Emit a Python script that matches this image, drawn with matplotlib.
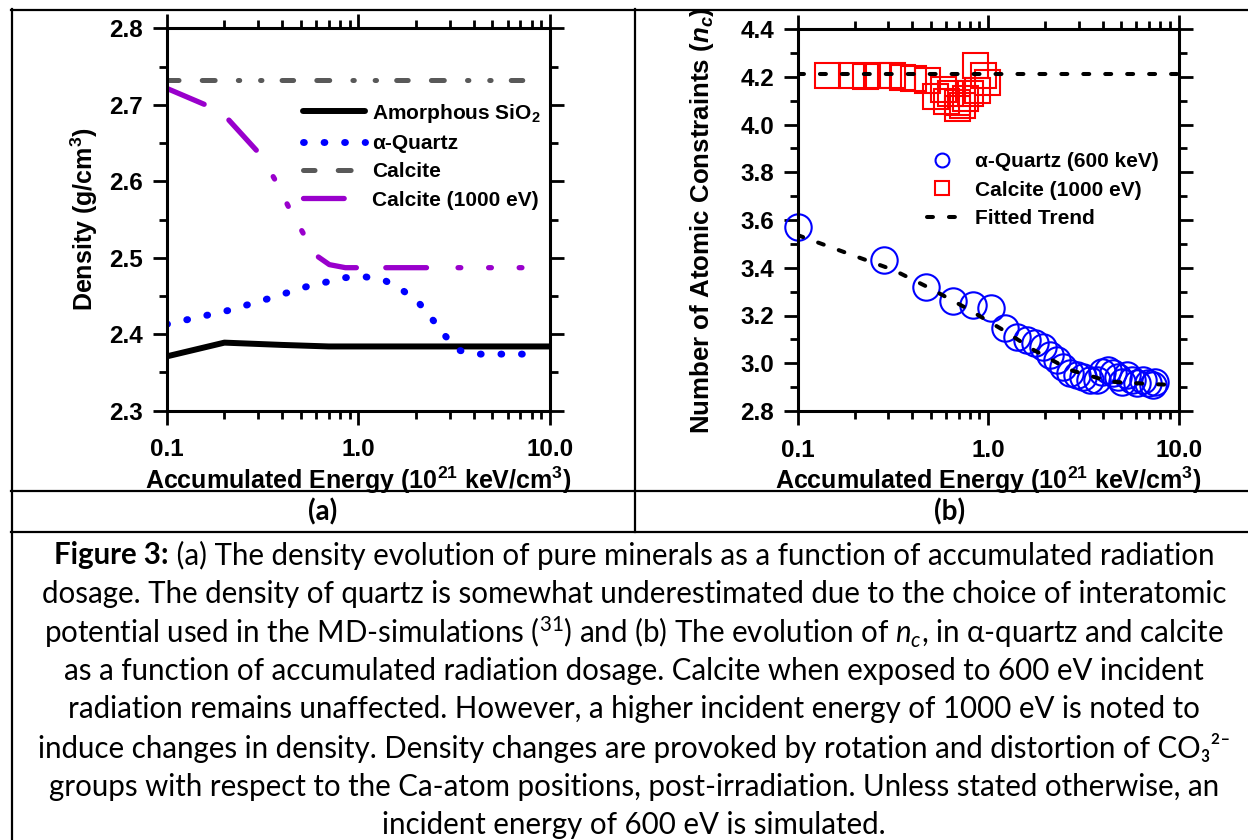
import matplotlib
matplotlib.use("Agg")
import matplotlib.pyplot as plt
from matplotlib.lines import Line2D
from matplotlib.ticker import FixedLocator, FixedFormatter, NullFormatter

# ---------------- data: panel (a) density ----------------
amorph_x = [0.1, 0.2, 0.4, 0.7, 10.0]
amorph_y = [2.371, 2.389, 2.386, 2.384, 2.384]
quartz_x = [0.1, 0.209, 0.334, 0.533, 0.855, 1.09, 1.38, 1.72, 2.09, 2.43, 2.83, 3.33, 4.2, 9.0]
quartz_y = [2.413, 2.431, 2.446, 2.462, 2.474, 2.475, 2.470, 2.4565, 2.4395, 2.4195, 2.398, 2.379, 2.374, 2.374]
calcite_x = [0.1, 8.8]
calcite_y = [2.732, 2.732]
calc1000_x = [0.1, 0.166, 0.211, 0.310, 0.367, 0.431, 0.515, 0.610, 0.705, 0.855, 1.0, 8.0]
calc1000_y = [2.7215, 2.698, 2.680, 2.634, 2.602, 2.567, 2.532, 2.502, 2.491, 2.487, 2.487, 2.487]

# ---------------- data: panel (b) constraints ----------------
qnc_x = [0.1, 0.285, 0.471, 0.652, 0.836, 1.03, 1.227, 1.41, 1.594, 1.76, 1.95, 2.11, 2.29,
         2.48, 2.69, 2.92, 3.16, 3.43, 3.72, 3.95, 4.28, 4.54, 4.82, 5.02, 5.34, 5.67, 6.02,
         6.52, 6.93, 7.36, 7.5]
qnc_y = [3.572, 3.433, 3.318, 3.261, 3.244, 3.230, 3.147, 3.111, 3.098, 3.086, 3.069, 3.035, 3.014,
         2.986, 2.958, 2.951, 2.944, 2.930, 2.930, 2.965, 2.972, 2.958, 2.944, 2.923, 2.951, 2.930, 2.916,
         2.930, 2.916, 2.909, 2.920]
cnc_x = [0.143, 0.19, 0.226, 0.265, 0.312, 0.352, 0.405, 0.476, 0.526, 0.582, 0.60, 0.631, 0.684,
         0.684, 0.727, 0.757, 0.804, 0.871, 0.853, 0.944, 0.984]
cnc_y = [4.207, 4.207, 4.204, 4.207, 4.207, 4.200, 4.193, 4.186, 4.120, 4.150, 4.100, 4.130, 4.069,
         4.096, 4.082, 4.110, 4.131, 4.145, 4.249, 4.207, 4.179]
trend_flat_x = [0.1, 10.0]
trend_flat_y = [4.212, 4.212]
trend_x = [0.1, 0.205, 0.318, 0.496, 0.772, 1.2, 1.73, 2.69, 4.36, 7.08, 9.55]
trend_y = [3.537, 3.446, 3.391, 3.314, 3.230, 3.139, 3.056, 2.972, 2.923, 2.913, 2.909]

x_ticks = [0.1, 1.0, 10.0]
x_ticklabels = ["0.1", "1.0", "10.0"]
ya_ticks = [2.3, 2.4, 2.5, 2.6, 2.7, 2.8]
ya_ticklabels = ["2.3", "2.4", "2.5", "2.6", "2.7", "2.8"]
yb_ticks = [2.8, 3.0, 3.2, 3.4, 3.6, 3.8, 4.0, 4.2, 4.4]
yb_ticklabels = ["2.8", "3.0", "3.2", "3.4", "3.6", "3.8", "4.0", "4.2", "4.4"]

caption_lines = [
    "dosage. The density of quartz is somewhat underestimated due to the choice of interatomic",
    r"potential used in the MD-simulations ($^{31}$) and (b) The evolution of $\mathit{n}_{\mathit{c}}$, in α-quartz and calcite",
    "as a function of accumulated radiation dosage. Calcite when exposed to 600 eV incident",
    "radiation remains unaffected. However, a higher incident energy of 1000 eV is noted to",
    "induce changes in density. Density changes are provoked by rotation and distortion of CO₃²⁻",
    "groups with respect to the Ca-atom positions, post-irradiation. Unless stated otherwise, an",
    "incident energy of 600 eV is simulated.",
]
caption_bold = "Figure 3:"
caption_first = " (a) The density evolution of pure minerals as a function of accumulated radiation"

# ---------------- style ----------------
plt.rcParams["font.family"] = ["Liberation Sans", "DejaVu Sans"]
plt.rcParams["font.weight"] = "bold"
plt.rcParams["axes.labelweight"] = "bold"
plt.rcParams["mathtext.default"] = "regular"
plt.rcParams["mathtext.fontset"] = "custom"
plt.rcParams["mathtext.it"] = "Lato:style=italic:weight=normal"
plt.rcParams["mathtext.bfit"] = "Liberation Sans:style=italic:weight=bold"
plt.rcParams["mathtext.rm"] = "Liberation Sans:bold"
plt.rcParams["mathtext.bf"] = "Liberation Sans:bold"
plt.rcParams["lines.scale_dashes"] = False

W, H = 1248, 840
fig = plt.figure(figsize=(W / 100, H / 100), dpi=100)


def rect(l, t, r, b):
    return [l / W, 1 - b / H, (r - l) / W, (b - t) / H]


TICK_FS = 17.5
LABEL_FS = 18
LEG_FS = 15


def style_axes(ax, yticks, ylabels, yminor):
    ax.set_xscale("log")
    ax.set_xlim(0.1, 10.0)
    ax.xaxis.set_major_locator(FixedLocator(x_ticks))
    ax.xaxis.set_major_formatter(FixedFormatter(x_ticklabels))
    ax.xaxis.set_minor_locator(FixedLocator([m * d for d in (0.1, 1.0) for m in range(2, 10)]))
    ax.xaxis.set_minor_formatter(NullFormatter())
    ax.yaxis.set_major_locator(FixedLocator(yticks))
    ax.yaxis.set_major_formatter(FixedFormatter(ylabels))
    ax.yaxis.set_minor_locator(FixedLocator(yminor))
    ax.set_ylim(yticks[0], yticks[-1])
    for s in ax.spines.values():
        s.set_linewidth(2.2)
    ax.tick_params(which="both", direction="out", top=True, right=True, width=2.0)
    ax.tick_params(which="major", length=10, labelsize=TICK_FS)
    ax.tick_params(which="minor", length=6)
    ax.tick_params(axis="x", which="major", pad=10)
    ax.tick_params(axis="y", which="major", pad=7)


# ---------------- panel (a) ----------------
axa = fig.add_axes(rect(166.7, 28.3, 550.2, 410.7))
axa.plot(amorph_x, amorph_y, color="black", lw=4.3, solid_capstyle="round",
         solid_joinstyle="round", label="Amorphous SiO$_2$")
axa.plot(quartz_x, quartz_y, color="#0000FF", lw=5.0, linestyle=(0, (0.6, 14.2)),
         dash_capstyle="round", label="α-Quartz")
axa.plot(calcite_x, calcite_y, color="#595959", lw=3.6,
         linestyle=(0, (8.3, 16.7, 9.3, 16.7, 1.0, 15.0, 1.0, 14.5)), dash_capstyle="round",
         label="Calcite")
axa.plot(calc1000_x, calc1000_y, color="#9900CC", lw=3.8,
         linestyle=(0, (29.3, 21.2, 29.3, 22.7, 2.0, 20.0, 2.0, 20.0, 2.0, 20.5)),
         dash_capstyle="round", label="Calcite (1000 eV)")
style_axes(axa, ya_ticks, ya_ticklabels, [2.35, 2.45, 2.55, 2.65, 2.75])
axa.set_xlabel(r"Accumulated Energy (10$^{21}$ keV/cm$^{3}$)", fontsize=LABEL_FS, labelpad=2)
axa.set_ylabel(r"Density (g/cm$^{3}$)", fontsize=LABEL_FS, labelpad=7)
axa.legend(loc="center left", bbox_to_anchor=(0.355, 0.667), frameon=False, fontsize=LEG_FS,
           borderpad=0, borderaxespad=0, handlelength=3.0, handletextpad=0.34, labelspacing=0.45)

# ---------------- panel (b) ----------------
axb = fig.add_axes(rect(797.5, 29.0, 1178.7, 411.0))
axb.plot(trend_flat_x, trend_flat_y, color="black", lw=2.9, linestyle=(0, (4.3, 11.5)),
         dash_capstyle="round", zorder=3)
axb.plot(trend_x, trend_y, color="black", lw=2.9, linestyle=(0, (4.3, 11.5)),
         dash_capstyle="round", zorder=3)
axb.plot(qnc_x, qnc_y, linestyle="none", marker="o", markersize=19, markerfacecolor="none",
         markeredgecolor="#0000FF", markeredgewidth=1.5, clip_on=False, zorder=2)
axb.plot(cnc_x, cnc_y, linestyle="none", marker="s", markersize=18, markerfacecolor="none",
         markeredgecolor="#FF0000", markeredgewidth=1.5, clip_on=False, zorder=2)
style_axes(axb, yb_ticks, yb_ticklabels, [2.9, 3.1, 3.3, 3.5, 3.7, 3.9, 4.1, 4.3])
axb.set_xlabel(r"Accumulated Energy (10$^{21}$ keV/cm$^{3}$)", fontsize=LABEL_FS, labelpad=2)
axb.set_ylabel(r"Number of Atomic Constraints ($\mathbfit{n}_{\mathbfit{c}}$)", fontsize=18.6)
axb.yaxis.set_label_coords(-0.214, 0.50)
leg_handles = [
    Line2D([], [], linestyle="none", marker="o", markersize=10, markerfacecolor="none",
           markeredgecolor="#0000FF", markeredgewidth=1.5),
    Line2D([], [], linestyle="none", marker="s", markersize=10, markerfacecolor="none",
           markeredgecolor="#FF0000", markeredgewidth=1.5),
    Line2D([], [], color="black", lw=2.9, linestyle=(0, (4.3, 11.5)), dash_capstyle="round"),
]
axb.legend(leg_handles, ["α-Quartz (600 keV)", "Calcite (1000 eV)", "Fitted Trend"],
           loc="center left", bbox_to_anchor=(0.34, 0.578), frameon=False, fontsize=LEG_FS,
           borderpad=0, borderaxespad=0, handlelength=1.4, handletextpad=0.9, labelspacing=0.45)

# ---------------- table borders ----------------
def hline(y, x0, x1):
    fig.add_artist(Line2D([x0 / W, x1 / W], [1 - y / H, 1 - y / H], color="black", lw=1.6,
                          transform=fig.transFigure))


def vline(x, y0, y1):
    fig.add_artist(Line2D([x / W, x / W], [1 - y0 / H, 1 - y1 / H], color="black", lw=1.6,
                          transform=fig.transFigure))


hline(10, 11, W)
hline(491, 11, W)
hline(532, 11, W)
vline(12, 9, H)
vline(635, 9, 532)

CAP_FONT = ["Lato", "DejaVu Sans"]
fig.text(323 / W, 1 - 512 / H, "(a)", ha="center", va="center", fontsize=20,
         family=CAP_FONT, weight="bold")
fig.text(950 / W, 1 - 512 / H, "(b)", ha="center", va="center", fontsize=20,
         family=CAP_FONT, weight="bold")

# ---------------- caption ----------------
renderer = fig.canvas.get_renderer()
probe_b = fig.text(0, 0, caption_bold, fontsize=16, family=CAP_FONT, weight="bold")
probe_r = fig.text(0, 0, caption_first, fontsize=16, family=CAP_FONT, weight="normal")
w_total = probe_b.get_window_extent(renderer).width + probe_r.get_window_extent(renderer).width
cap_fs = 16 * 1168.0 / w_total
probe_b.remove()
probe_r.remove()

cap_cx = 634
line_y0 = 555
line_dy = 38.6
tb = fig.text(0, 0, caption_bold, fontsize=cap_fs, family=CAP_FONT, weight="bold", va="center")
tr = fig.text(0, 0, caption_first, fontsize=cap_fs, family=CAP_FONT, weight="normal", va="center")
wb = tb.get_window_extent(renderer).width
wr = tr.get_window_extent(renderer).width
x0 = cap_cx - (wb + wr) / 2
tb.set_position((x0 / W, 1 - line_y0 / H))
tr.set_position(((x0 + wb) / W, 1 - line_y0 / H))
for i, line in enumerate(caption_lines):
    fig.text(cap_cx / W, 1 - (line_y0 + (i + 1) * line_dy) / H, line, ha="center", va="center",
             fontsize=cap_fs, family=CAP_FONT, weight="normal")

fig.savefig("out.png", dpi=100)
